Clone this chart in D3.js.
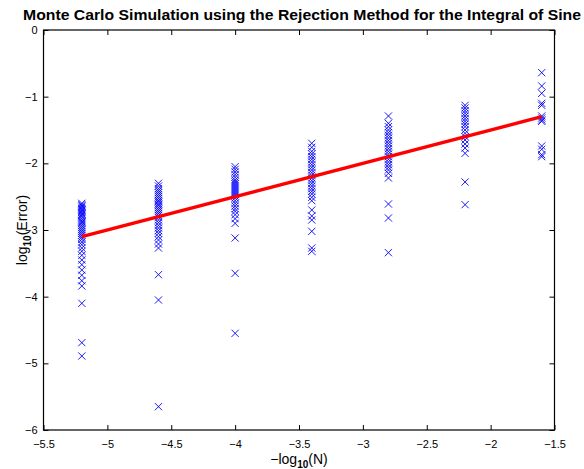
<!DOCTYPE html>
<html><head><meta charset="utf-8">
<script src="https://cdn.jsdelivr.net/npm/d3@7"></script>
<style>body{margin:0;background:#fff}svg{display:block}text{font-family:"Liberation Sans",Arial,Helvetica,sans-serif}</style>
</head><body><svg id="c" width="584" height="469"></svg>
<script>
const xPositions = [-5.2, -4.6, -4.0, -3.4, -2.8, -2.2, -1.6];
const errCol1 = [-2.60,-2.62,-2.64,-2.66,-2.68,-2.70,-2.72,-2.74,-2.76,-2.78,-2.80,-2.83,-2.86,-2.88,-2.90,-2.93,-2.96,-2.99,-3.02,-3.05,-3.08,-3.11,-3.14,-3.18,-3.22,-3.27,-3.32,-3.38,-3.45,-3.52,-3.60,-3.68,-3.76,-3.84,-4.10,-4.69,-4.89];
const errCol2 = [-2.30,-2.34,-2.38,-2.41,-2.44,-2.47,-2.50,-2.53,-2.56,-2.58,-2.61,-2.63,-2.66,-2.69,-2.72,-2.75,-2.78,-2.81,-2.85,-2.89,-2.93,-2.97,-3.01,-3.05,-3.10,-3.15,-3.21,-3.27,-3.67,-4.05,-5.65];
const errCol3 = [-2.05,-2.09,-2.13,-2.17,-2.21,-2.25,-2.28,-2.31,-2.34,-2.37,-2.40,-2.43,-2.46,-2.49,-2.52,-2.56,-2.60,-2.64,-2.68,-2.72,-2.77,-2.83,-2.90,-3.12,-3.65,-4.55];
const errCol4 = [-1.70,-1.76,-1.82,-1.86,-1.90,-1.94,-1.98,-2.02,-2.06,-2.10,-2.14,-2.18,-2.22,-2.26,-2.30,-2.34,-2.38,-2.42,-2.46,-2.51,-2.56,-2.70,-2.79,-2.85,-3.02,-3.27,-3.32];
const errCol5 = [-1.29,-1.40,-1.45,-1.50,-1.54,-1.58,-1.62,-1.66,-1.70,-1.74,-1.78,-1.82,-1.86,-1.90,-1.94,-1.98,-2.02,-2.06,-2.10,-2.15,-2.22,-2.61,-2.82,-3.34];
const errCol6 = [-1.13,-1.17,-1.21,-1.25,-1.29,-1.33,-1.37,-1.41,-1.45,-1.50,-1.55,-1.60,-1.65,-1.71,-1.77,-1.85,-2.28,-2.62];
const errCol7 = [-0.64,-0.84,-0.95,-1.10,-1.13,-1.29,-1.32,-1.35,-1.37,-1.74,-1.79,-1.87,-1.90];
const fitX = [-5.2, -1.6];
const fitY = [-3.1, -1.3];
const xTicks = [-5.5,-5,-4.5,-4,-3.5,-3,-2.5,-2,-1.5];
const yTicks = [0,-1,-2,-3,-4,-5,-6];

const cols = [errCol1, errCol2, errCol3, errCol4, errCol5, errCol6, errCol7];
const pts = [];
cols.forEach((c,i)=>c.forEach(v=>pts.push({x:xPositions[i], y:v})));

const L=43.5, R=554.5, T=30, B=430;
const x = d3.scaleLinear().domain([-5.5,-1.5]).range([L,R]);
const y = d3.scaleLinear().domain([-6,0]).range([B,T]);
const svg = d3.select("#c");
const fmt = v => (v<0 ? "\u2212" : "") + Math.abs(v);

// points
const s = 3.6;
svg.append("g").selectAll("path").data(pts).join("path")
  .attr("d", d => { const px=x(d.x), py=y(d.y); return `M${px-s},${py-s}L${px+s},${py+s}M${px-s},${py+s}L${px+s},${py-s}`; })
  .attr("stroke","#0000ff").attr("stroke-width",0.9).attr("fill","none");

// fit line
svg.append("path").datum(fitX.map((v,i)=>[v,fitY[i]]))
  .attr("d", d3.line().x(d=>x(d[0])).y(d=>y(d[1])))
  .attr("stroke","#ff0000").attr("stroke-width",3.5).attr("fill","none");

// axes (MATLAB-style box with inward ticks)
const tl = 5;
const gb = svg.append("g").attr("transform",`translate(0,${B})`)
  .call(d3.axisBottom(x).tickValues(xTicks).tickSize(-tl).tickPadding(10).tickFormat(fmt));
const gt = svg.append("g").attr("transform",`translate(0,${T})`)
  .call(d3.axisTop(x).tickValues(xTicks).tickSize(-tl).tickFormat(""));
const gl = svg.append("g").attr("transform",`translate(${L},0)`)
  .call(d3.axisLeft(y).tickValues(yTicks).tickSize(-tl).tickPadding(6).tickFormat(fmt));
const gr = svg.append("g").attr("transform",`translate(${R},0)`)
  .call(d3.axisRight(y).tickValues(yTicks).tickSize(-tl).tickFormat(""));
[gb,gt,gl,gr].forEach(g=>{
  g.select(".domain").remove();
  g.selectAll("line").attr("stroke","#000").attr("stroke-width",1);
  g.selectAll("text").attr("fill","#000").style("font-size","11px").style("font-family",'"Liberation Sans",Arial,sans-serif');
});
gb.selectAll("text").attr("dy","0.71em");
svg.append("rect").attr("x",L).attr("y",T).attr("width",R-L).attr("height",B-T)
  .attr("fill","none").attr("stroke","#000").attr("stroke-width",1.2);

// title
svg.append("text").attr("x",302).attr("y",20).attr("text-anchor","middle")
  .attr("textLength",558).attr("lengthAdjust","spacingAndGlyphs")
  .style("font-size","15px").style("font-weight","bold")
  .text("Monte Carlo Simulation using the Rejection Method for the Integral of Sine");

// x label
const xl = svg.append("text").attr("x",(L+R)/2).attr("y",464).attr("text-anchor","middle").style("font-size","14px");
xl.append("tspan").text("\u2212log");
xl.append("tspan").attr("dy",4).style("font-size","10px").style("font-weight","bold").text("10");
xl.append("tspan").attr("dy",-4).text("(N)");

// y label
const yl = svg.append("text").attr("transform",`translate(27,${(T+B)/2}) rotate(-90)`).attr("text-anchor","middle").style("font-size","14px");
yl.append("tspan").text("log");
yl.append("tspan").attr("dy",4).style("font-size","10px").style("font-weight","bold").text("10");
yl.append("tspan").attr("dy",-4).text("(Error)");
</script></body></html>
